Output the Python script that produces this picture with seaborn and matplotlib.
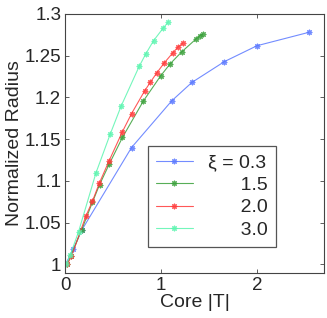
import pandas as pd
import numpy as np
import matplotlib.pyplot as plt
import seaborn as sns

# core |T| and normalized radius per xi value
t_03 = [0.0, 0.08, 0.17, 0.69, 1.11, 1.32, 1.66, 2.0, 2.54]
r_03 = [1.0, 1.018, 1.041, 1.14, 1.196, 1.218, 1.243, 1.262, 1.278]

t_15 = [0.015, 0.056, 0.171, 0.282, 0.357, 0.46, 0.596, 0.815, 0.993, 1.094, 1.212, 1.36, 1.402, 1.436]
r_15 = [1.0, 1.0099, 1.0419, 1.0745, 1.0957, 1.1208, 1.1523, 1.196, 1.2257, 1.2404, 1.2544, 1.2697, 1.2739, 1.276]

t_20 = [0.018, 0.063, 0.213, 0.282, 0.355, 0.457, 0.592, 0.69, 0.826, 0.885, 0.953, 1.031, 1.122, 1.172, 1.227]
r_20 = [1.0, 1.0096, 1.0578, 1.0757, 1.0977, 1.1244, 1.1583, 1.1806, 1.2077, 1.218, 1.2293, 1.2413, 1.2536, 1.26, 1.2653]

t_30 = [0.007, 0.049, 0.138, 0.319, 0.469, 0.582, 0.77, 0.84, 0.92, 1.018, 1.076]
r_30 = [1.0, 1.0108, 1.0395, 1.1097, 1.1565, 1.1898, 1.2372, 1.2524, 1.268, 1.2827, 1.2907]

xi_values = ["0.3", "1.5", "2.0", "3.0"]
colors = ["#5a78ff", "#3aa03a", "#ff3b3b", "#5cf5b0"]

frames = []
for lab, t, r in zip(xi_values, [t_03, t_15, t_20, t_30], [r_03, r_15, r_20, r_30]):
    frames.append(pd.DataFrame({"T": t, "R": r, "xi": lab}))
df = pd.concat(frames, ignore_index=True)

sns.set_style("ticks")
plt.rcParams["font.family"] = ["Liberation Sans", "DejaVu Sans"]

fig, ax = plt.subplots(figsize=(3.27, 3.18), dpi=100)
sns.lineplot(data=df, x="T", y="R", hue="xi", palette=colors, sort=False,
             estimator=None, marker="o", linewidth=0.8, alpha=0.85,
             ax=ax, legend=False)
# asterisk markers like the matlab "*"
for line in ax.get_lines():
    line.set_marker((8, 2, 0))
    line.set_markersize(4)
    line.set_markeredgewidth(0.8)
    line.set_markeredgecolor(line.get_color())

ax.set_xlim(0, 2.7)
ax.set_ylim(0.99, 1.3)
ax.set_xticks([0, 1, 2])
ax.set_yticks([1, 1.05, 1.1, 1.15, 1.2, 1.25, 1.3])
ax.set_yticklabels(["1", "1.05", "1.1", "1.15", "1.2", "1.25", "1.3"])
ax.tick_params(direction="in", length=3, labelsize=13.5, top=True, right=True,
               color="#444444", width=0.6, pad=3)
for s in ax.spines.values():
    s.set_color("#444444")
    s.set_linewidth(0.8)
ax.set_xlabel("Core |T|", fontsize=14, labelpad=0)
ax.set_ylabel("Normalized Radius", fontsize=14, labelpad=1)

# right-aligned legend labels, padded with figure spaces
labels = ["ξ = " + xi_values[0]] + ["\u2007\u2007\u2007" + v for v in xi_values[1:]]
handles = ax.get_lines()[:4]
leg = ax.legend(handles, labels, loc="upper left", bbox_to_anchor=(0.319, 0.49),
                borderaxespad=0, fontsize=14, handlelength=1.9, labelspacing=0.25,
                fancybox=False, framealpha=1, edgecolor="#555555",
                borderpad=0.4, handletextpad=0.8)
leg.get_frame().set_linewidth(0.9)

fig.subplots_adjust(left=0.2, right=0.991, top=0.956, bottom=0.142)
plt.savefig("out.png", dpi=100)
